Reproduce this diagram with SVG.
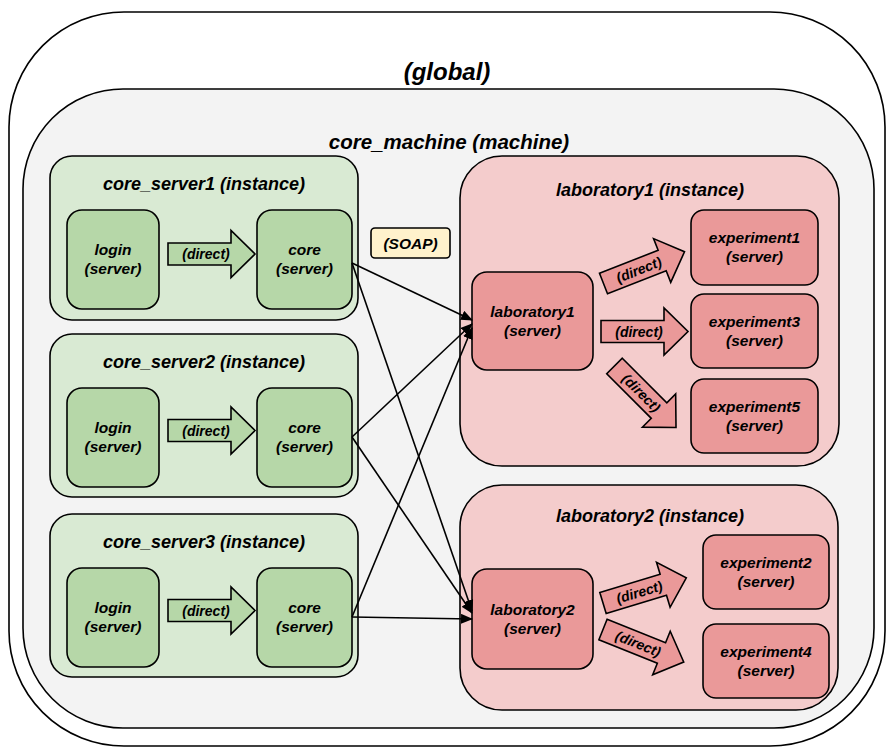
<svg xmlns="http://www.w3.org/2000/svg" width="892" height="751" viewBox="0 0 892 751">
<defs>
<style>
text{font-family:"Liberation Sans",Arial,sans-serif;font-style:italic;font-weight:bold;fill:#000;text-anchor:middle}
.box{stroke:#000;stroke-width:1.6}
.g-inst{fill:#d9ead3}
.g-srv{fill:#b6d7a8}
.r-inst{fill:#f4cccc}
.r-srv{fill:#ea9999}
.t24{font-size:24px}
.t21{font-size:20.5px}
.t18{font-size:18px}
.t15{font-size:15.5px}
.d-g{font-size:14px}
.d-r{font-size:14px}
.conn{fill:none;stroke:#000;stroke-width:1.6}
</style>
<path id="blk" d="M0,-11 H63 V-23.5 L87,0 L63,23.5 V11 H0 Z"/>
<marker id="ah" markerUnits="userSpaceOnUse" markerWidth="12" markerHeight="10" refX="11" refY="5" orient="auto">
<path d="M0,0 L12,5 L0,10 Z" fill="#000"/>
</marker>
</defs>
<rect width="892" height="751" fill="#fff"/>

<g id="global">
<rect class="box" x="9" y="12" width="876" height="734" rx="115" ry="115" fill="#fff"/>
<text class="t24" x="447" y="80">(global)</text>
</g>

<g id="core_machine">
<rect class="box" x="23" y="89" width="851" height="639" rx="100" ry="100" fill="#f3f3f3"/>
<text class="t21" x="449" y="149">core_machine (machine)</text>
</g>

<g id="core_server1">
<rect class="box g-inst" x="50" y="156" width="308" height="164" rx="22"/>
<text class="t18" x="204" y="190">core_server1 (instance)</text>
</g>
<g id="core_server2">
<rect class="box g-inst" x="50" y="334" width="308" height="163" rx="22"/>
<text class="t18" x="204" y="368">core_server2 (instance)</text>
</g>
<g id="core_server3">
<rect class="box g-inst" x="50" y="514" width="308" height="163" rx="22"/>
<text class="t18" x="204" y="548">core_server3 (instance)</text>
</g>

<g id="laboratory1_instance">
<rect class="box r-inst" x="460" y="156" width="379" height="310" rx="42"/>
<text class="t18" x="650" y="196">laboratory1 (instance)</text>
</g>
<g id="laboratory2_instance">
<rect class="box r-inst" x="460" y="485" width="378" height="225" rx="42"/>
<text class="t18" x="650" y="522">laboratory2 (instance)</text>
</g>

<g id="login1"><rect class="box g-srv" x="67" y="210" width="92" height="99" rx="15"/>
<text class="t15" x="113" y="255">login</text><text class="t15" x="113" y="274">(server)</text></g>
<g id="core1"><rect class="box g-srv" x="257" y="210" width="95" height="99" rx="15"/>
<text class="t15" x="304.5" y="255">core</text><text class="t15" x="304.5" y="274">(server)</text></g>

<g id="login2"><rect class="box g-srv" x="67" y="388" width="92" height="99" rx="15"/>
<text class="t15" x="113" y="433">login</text><text class="t15" x="113" y="452">(server)</text></g>
<g id="core2"><rect class="box g-srv" x="257" y="388" width="95" height="99" rx="15"/>
<text class="t15" x="304.5" y="433">core</text><text class="t15" x="304.5" y="452">(server)</text></g>

<g id="login3"><rect class="box g-srv" x="67" y="568" width="92" height="99" rx="15"/>
<text class="t15" x="113" y="613">login</text><text class="t15" x="113" y="632">(server)</text></g>
<g id="core3"><rect class="box g-srv" x="257" y="568" width="95" height="99" rx="15"/>
<text class="t15" x="304.5" y="613">core</text><text class="t15" x="304.5" y="632">(server)</text></g>

<g id="laboratory1"><rect class="box r-srv" x="472" y="272" width="121" height="98" rx="15"/>
<text class="t15" x="532.5" y="317">laboratory1</text><text class="t15" x="532.5" y="336">(server)</text></g>
<g id="experiment1"><rect class="box r-srv" x="691" y="210" width="127" height="75" rx="13"/>
<text class="t15" x="754.5" y="243">experiment1</text><text class="t15" x="754.5" y="262">(server)</text></g>
<g id="experiment3"><rect class="box r-srv" x="691" y="294" width="127" height="74" rx="13"/>
<text class="t15" x="754.5" y="327">experiment3</text><text class="t15" x="754.5" y="346">(server)</text></g>
<g id="experiment5"><rect class="box r-srv" x="691" y="379" width="127" height="74" rx="13"/>
<text class="t15" x="754.5" y="412">experiment5</text><text class="t15" x="754.5" y="431">(server)</text></g>

<g id="laboratory2"><rect class="box r-srv" x="472" y="569" width="121" height="100" rx="15"/>
<text class="t15" x="532.5" y="615">laboratory2</text><text class="t15" x="532.5" y="634">(server)</text></g>
<g id="experiment2"><rect class="box r-srv" x="703" y="535" width="126" height="74" rx="13"/>
<text class="t15" x="766" y="568">experiment2</text><text class="t15" x="766" y="587">(server)</text></g>
<g id="experiment4"><rect class="box r-srv" x="703" y="624" width="126" height="74" rx="13"/>
<text class="t15" x="766" y="657">experiment4</text><text class="t15" x="766" y="676">(server)</text></g>

<g id="soap_label">
<rect class="box" x="371" y="228" width="79" height="30" rx="4" fill="#fff2cc"/>
<text class="t15" x="410.5" y="249">(SOAP)</text>
</g>

<g id="connectors">
<g transform="translate(168,254)"><use href="#blk" class="box g-srv"/><text class="d-g" x="38" y="5">(direct)</text></g>
<g transform="translate(168,430.5)"><use href="#blk" class="box g-srv"/><text class="d-g" x="38" y="5">(direct)</text></g>
<g transform="translate(168,610.5)"><use href="#blk" class="box g-srv"/><text class="d-g" x="38" y="5">(direct)</text></g>

<g transform="translate(603.5,283.5) rotate(-21.4)"><use href="#blk" class="box r-srv"/><text class="d-r" x="38" y="5">(direct)</text></g>
<g transform="translate(601,331.5)"><use href="#blk" class="box r-srv"/><text class="d-r" x="38" y="5">(direct)</text></g>
<g transform="translate(614.5,366) rotate(45)"><use href="#blk" class="box r-srv"/><text class="d-r" x="38" y="5">(direct)</text></g>
<g transform="translate(603,603) rotate(-16.8)"><use href="#blk" class="box r-srv"/><text class="d-r" x="38" y="5">(direct)</text></g>
<g transform="translate(603,629.5) rotate(21.9)"><use href="#blk" class="box r-srv"/><text class="d-r" x="38" y="5">(direct)</text></g>

<line class="conn" x1="352" y1="263" x2="472" y2="320" marker-end="url(#ah)"/>
<line class="conn" x1="352" y1="263" x2="472" y2="611" marker-end="url(#ah)"/>
<line class="conn" x1="352" y1="437" x2="472" y2="324" marker-end="url(#ah)"/>
<line class="conn" x1="352" y1="437" x2="472" y2="613" marker-end="url(#ah)"/>
<line class="conn" x1="352" y1="617" x2="472" y2="328" marker-end="url(#ah)"/>
<line class="conn" x1="352" y1="617" x2="472" y2="619" marker-end="url(#ah)"/>
</g>
</svg>
